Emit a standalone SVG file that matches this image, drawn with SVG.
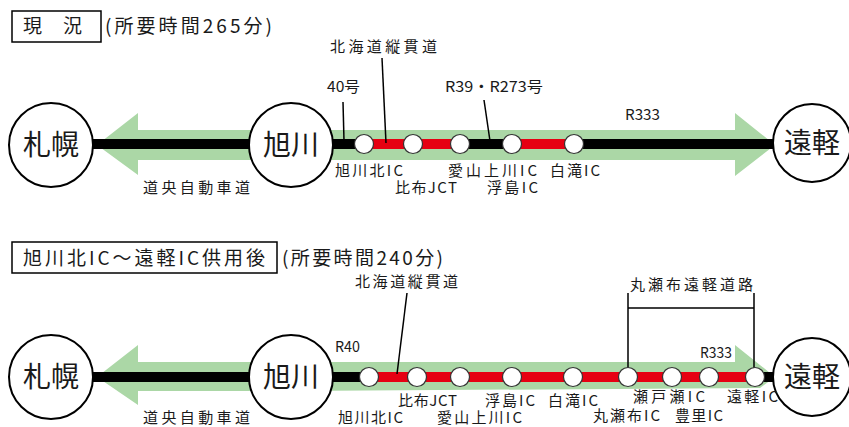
<svg xmlns="http://www.w3.org/2000/svg" width="849" height="427" viewBox="0 0 849 427">
<style>
text{font-family:"Noto Sans CJK JP","Noto Sans CJK SC",sans-serif;fill:#1a1a1a}
.lbl{font-size:15px}
.city{font-size:28px;text-anchor:middle}
.ttl{font-size:19px}
.band{fill:#abd7a6}
.blk{stroke:#000;stroke-width:10;fill:none}
.red{stroke:#e60012;stroke-width:10;fill:none}
.cityc{fill:#fff;stroke:#000;stroke-width:2}
.ic{fill:#fff;stroke:#333;stroke-width:1.2}
.ldr{stroke:#000;stroke-width:1.5;fill:none}
.box{fill:#fff;stroke:#000;stroke-width:1.5}
</style>
<rect width="849" height="427" fill="#fff"/>

<g id="title1">
<rect class="box" x="12" y="11" width="89" height="31"/>
<text class="ttl" x="23" y="33" textLength="59" lengthAdjust="spacing">現　況</text>
<text class="ttl" x="105" y="33" textLength="167" lengthAdjust="spacing">(所要時間265分)</text>
</g>
<g id="title2">
<rect class="box" x="12" y="242" width="265" height="31"/>
<text class="ttl" x="23" y="265" textLength="242" lengthAdjust="spacing">旭川北IC〜遠軽IC供用後</text>
<text class="ttl" x="282" y="265" textLength="161" lengthAdjust="spacing">(所要時間240分)</text>
</g>

<g id="bands">
<polygon class="band" points="97,145 138,113 138,130 295,130 295,160 138,160 138,175"/>
<polygon class="band" points="295,130 735,130 735,113 775,145 735,176 735,160 295,160"/>
<polygon class="band" points="97,377 138,345 138,362 295,362 295,391 138,391 138,405"/>
<polygon class="band" points="295,362 735,362 735,345 775,377 760,388 295,391"/>
</g>

<g id="connectors">
<line class="blk" x1="93" y1="144" x2="250" y2="144"/>
<line class="blk" x1="333" y1="144" x2="364" y2="144"/>
<line class="red" x1="364" y1="144" x2="460" y2="144"/>
<line class="blk" x1="460" y1="144" x2="512" y2="144"/>
<line class="red" x1="512" y1="144" x2="574" y2="144"/>
<line class="blk" x1="574" y1="144" x2="774" y2="144"/>

<line class="blk" x1="93" y1="377" x2="250" y2="377"/>
<line class="blk" x1="333" y1="377" x2="369" y2="377"/>
<line class="red" x1="369" y1="377" x2="755" y2="377"/>
<line class="blk" x1="755" y1="377" x2="774" y2="377"/>

<line class="ldr" x1="343" y1="102" x2="344" y2="141"/>
<line class="ldr" x1="382" y1="58" x2="386" y2="143"/>
<line class="ldr" x1="484" y1="100" x2="490" y2="141"/>
<line class="ldr" x1="407" y1="293" x2="397" y2="374"/>
<polyline class="ldr" points="628,368 628,293 628,308 754,308 754,293 754,368"/>
</g>

<g id="sapporo1"><circle class="cityc" cx="51" cy="145" r="42"/><text class="city" x="51" y="155">札幌</text></g>
<g id="asahikawa1"><circle class="cityc" cx="291" cy="145" r="42"/><text class="city" x="291" y="155">旭川</text></g>
<g id="engaru1"><circle class="cityc" cx="812" cy="143" r="39"/><text class="city" x="812" y="153">遠軽</text></g>
<g id="sapporo2"><circle class="cityc" cx="51" cy="377" r="42"/><text class="city" x="51" y="387">札幌</text></g>
<g id="asahikawa2"><circle class="cityc" cx="291" cy="377" r="42"/><text class="city" x="291" y="387">旭川</text></g>
<g id="engaru2"><circle class="cityc" cx="812" cy="377" r="39"/><text class="city" x="812" y="387">遠軽</text></g>

<g id="ics1">
<circle class="ic" cx="364" cy="144" r="9.5"/>
<circle class="ic" cx="413" cy="144" r="9.5"/>
<circle class="ic" cx="460" cy="144" r="9.5"/>
<circle class="ic" cx="512" cy="144" r="9.5"/>
<circle class="ic" cx="574" cy="144" r="9.5"/>
</g>
<g id="ics2">
<circle class="ic" cx="369" cy="377" r="9.5"/>
<circle class="ic" cx="417" cy="377" r="9.5"/>
<circle class="ic" cx="460" cy="377" r="9.5"/>
<circle class="ic" cx="512" cy="377" r="9.5"/>
<circle class="ic" cx="573" cy="377" r="9.5"/>
<circle class="ic" cx="628" cy="377" r="9.5"/>
<circle class="ic" cx="672" cy="377" r="9.5"/>
<circle class="ic" cx="709" cy="377" r="9.5"/>
<circle class="ic" cx="755" cy="377" r="9.5"/>
</g>

<g id="labels1">
<text class="lbl" x="327" y="92" textLength="33" lengthAdjust="spacingAndGlyphs">40号</text>
<text class="lbl" x="330" y="52" textLength="107" lengthAdjust="spacing">北海道縦貫道</text>
<text class="lbl" x="445" y="92" textLength="98" lengthAdjust="spacingAndGlyphs">R39・R273号</text>
<text class="lbl" x="625" y="120" textLength="35" lengthAdjust="spacingAndGlyphs">R333</text>
<text class="lbl" x="335" y="176" textLength="68" lengthAdjust="spacing">旭川北IC</text>
<text class="lbl" x="395" y="193" textLength="62" lengthAdjust="spacing">比布JCT</text>
<text class="lbl" x="448" y="176" textLength="89" lengthAdjust="spacing">愛山上川IC</text>
<text class="lbl" x="487" y="193" textLength="51" lengthAdjust="spacing">浮島IC</text>
<text class="lbl" x="550" y="176" textLength="50" lengthAdjust="spacing">白滝IC</text>
<text class="lbl" x="143" y="193" textLength="107" lengthAdjust="spacing">道央自動車道</text>
</g>
<g id="labels2">
<text class="lbl" x="335" y="352" textLength="25" lengthAdjust="spacingAndGlyphs">R40</text>
<text class="lbl" x="355" y="287" textLength="103" lengthAdjust="spacing">北海道縦貫道</text>
<text class="lbl" x="398" y="406" textLength="59" lengthAdjust="spacing">比布JCT</text>
<text class="lbl" x="338" y="423" textLength="65" lengthAdjust="spacing">旭川北IC</text>
<text class="lbl" x="437" y="423" textLength="85" lengthAdjust="spacing">愛山上川IC</text>
<text class="lbl" x="485" y="406" textLength="50" lengthAdjust="spacing">浮島IC</text>
<text class="lbl" x="548" y="406" textLength="50" lengthAdjust="spacing">白滝IC</text>
<text class="lbl" x="593" y="421" textLength="67" lengthAdjust="spacing">丸瀬布IC</text>
<text class="lbl" x="633" y="402" textLength="72" lengthAdjust="spacing">瀬戸瀬IC</text>
<text class="lbl" x="675" y="421" textLength="48" lengthAdjust="spacing">豊里IC</text>
<text class="lbl" x="727" y="402" textLength="51" lengthAdjust="spacing">遠軽IC</text>
<text class="lbl" x="630" y="290" textLength="123" lengthAdjust="spacing">丸瀬布遠軽道路</text>
<rect x="695" y="344" width="38" height="18" fill="#fff"/>
<text class="lbl" x="700" y="358" textLength="32" lengthAdjust="spacingAndGlyphs">R333</text>
<text class="lbl" x="143" y="423" textLength="107" lengthAdjust="spacing">道央自動車道</text>
</g>
</svg>
